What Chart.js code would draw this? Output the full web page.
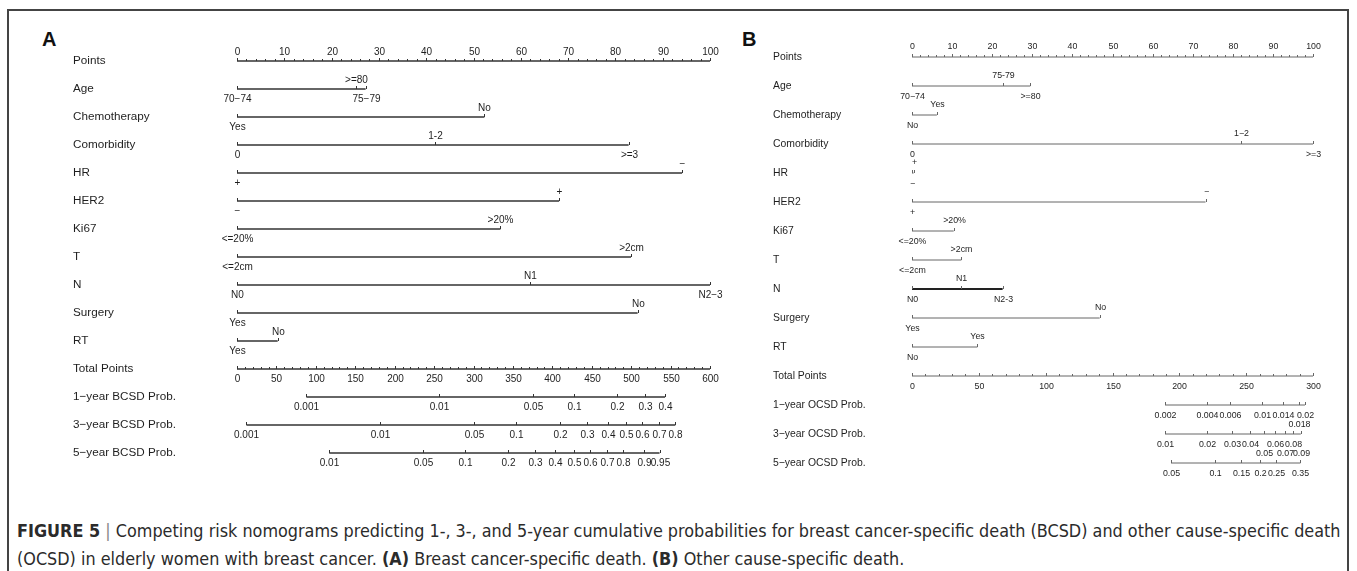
<!DOCTYPE html>
<html>
<head>
<meta charset="utf-8">
<script src="https://cdn.jsdelivr.net/npm/chart.js@4.4.0/dist/chart.umd.min.js"></script>
<style>
  body { margin: 0; background: #fff; width: 1357px; height: 571px; position: relative; overflow: hidden; font-family: "Liberation Sans", Arial, sans-serif; }
  #frame { position: absolute; left: 7px; top: 9px; width: 1342px; height: 580px; border: 2px solid #444; box-sizing: border-box; }
  .letter { position: absolute; top: 29px; font: bold 20px "Liberation Sans", Arial, sans-serif; line-height: 20px; color: #111; }
  .wrap { position: absolute; top: 10px; }
  #caption { position: absolute; left: 17px; top: 517px; color: #2b2b2b; font-family: "Liberation Sans Narrow", "DejaVu Sans Condensed", sans-serif; white-space: nowrap; }
  #caption div { height: 28px; line-height: 28px; }
  #caption .sep { color: #888; }
</style>
</head>
<body>
<div id="frame"></div>
<div class="letter" style="left:42px">A</div>
<div class="letter" style="left:742px">B</div>
<div class="wrap" style="left:10px"><canvas id="chartA" width="725" height="475"></canvas></div>
<div class="wrap" style="left:735px"><canvas id="chartB" width="612" height="475"></canvas></div>
<div id="caption">
  <div id="cap1"><b>FIGURE 5</b> <span class="sep">|</span> Competing risk nomograms predicting 1-, 3-, and 5-year cumulative probabilities for breast cancer-specific death (BCSD) and other cause-specific death</div>
  <div>(OCSD) in elderly women with breast cancer. <b>(A)</b> Breast cancer-specific death. <b>(B)</b> Other cause-specific death.</div>
</div>
<script>
// ---------- panel A : breast cancer-specific death ----------
const rowNamesA = ['Points', 'Age', 'Chemotherapy', 'Comorbidity', 'HR', 'HER2', 'Ki67', 'T', 'N', 'Surgery', 'RT',
  'Total Points', '1\u2212year BCSD Prob.', '3\u2212year BCSD Prob.', '5\u2212year BCSD Prob.'];
const pointTicksA = [0, 10, 20, 30, 40, 50, 60, 70, 80, 90, 100];
const totalTicksA = [0, 50, 100, 150, 200, 250, 300, 350, 400, 450, 500, 550, 600];

const ageLvlA = ['70\u221274', '75\u221279', '>=80'];
const agePtsA = [0, 27.2, 25.1];
const chemoLvlA = ['Yes', 'No'];
const chemoPtsA = [0, 52.3];
const comorbLvlA = ['0', '1-2', '>=3'];
const comorbPtsA = [0, 41.9, 82.8];
const hrLvlA = ['+', '\u2212'];
const hrPtsA = [0, 94.1];
const her2LvlA = ['\u2212', '+'];
const her2PtsA = [0, 68.1];
const ki67LvlA = ['<=20%', '>20%'];
const ki67PtsA = [0, 55.7];
const tLvlA = ['<=2cm', '>2cm'];
const tPtsA = [0, 83.3];
const nLvlA = ['N0', 'N1', 'N2\u22123'];
const nPtsA = [0, 61.9, 100];
const surgLvlA = ['Yes', 'No'];
const surgPtsA = [0, 84.7];
const rtLvlA = ['Yes', 'No'];
const rtPtsA = [0, 8.6];

// probability scales, positions in total points
const bcsd1Prob = ['0.001', '0.01', '0.05', '0.1', '0.2', '0.3', '0.4'];
const bcsd1Tot = [88, 256, 375, 428, 482, 517, 543];
const bcsd3Prob = ['0.001', '0.01', '0.05', '0.1', '0.2', '0.3', '0.4', '0.5', '0.6', '0.7', '0.8'];
const bcsd3Tot = [12, 181, 301, 354, 410, 444, 470, 493, 514, 535, 556];
const bcsd5Prob = ['0.01', '0.05', '0.1', '0.2', '0.3', '0.4', '0.5', '0.6', '0.7', '0.8', '0.9', '0.95'];
const bcsd5Tot = [117, 236, 289, 344, 378, 404, 427, 448, 469, 490, 516, 536];

// ---------- panel B : other cause-specific death ----------
const rowNamesB = ['Points', 'Age', 'Chemotherapy', 'Comorbidity', 'HR', 'HER2', 'Ki67', 'T', 'N', 'Surgery', 'RT',
  'Total Points', '1\u2212year OCSD Prob.', '3\u2212year OCSD Prob.', '5\u2212year OCSD Prob.'];
const pointTicksB = [0, 10, 20, 30, 40, 50, 60, 70, 80, 90, 100];
const totalTicksB = [0, 50, 100, 150, 200, 250, 300];

const ageLvlB = ['70\u221274', '75-79', '>=80'];
const agePtsB = [0, 22.6, 29.5];
const chemoLvlB = ['No', 'Yes'];
const chemoPtsB = [0, 6.2];
const comorbLvlB = ['0', '1\u22122', '>=3'];
const comorbPtsB = [0, 82.1, 100];
const hrLvlB = ['\u2212', '+'];
const hrPtsB = [0, 0.4];
const her2LvlB = ['+', '\u2212'];
const her2PtsB = [0, 73.2];
const ki67LvlB = ['<=20%', '>20%'];
const ki67PtsB = [0, 10.4];
const tLvlB = ['<=2cm', '>2cm'];
const tPtsB = [0, 12.3];
const nLvlB = ['N0', 'N1', 'N2-3'];
const nPtsB = [0, 12.1, 22.6];
const surgLvlB = ['Yes', 'No'];
const surgPtsB = [0, 46.8];
const rtLvlB = ['No', 'Yes'];
const rtPtsB = [0, 16.3];

const ocsd1Prob = ['0.002', '0.004', '0.006', '0.01', '0.014', '0.018', '0.02'];
const ocsd1Tot = [189.3, 220.7, 237.9, 262.2, 277.6, 289.4, 294.0];
const ocsd3Prob = ['0.01', '0.02', '0.03', '0.04', '0.05', '0.06', '0.07', '0.08', '0.09'];
const ocsd3Tot = [189.3, 221.0, 239.7, 252.9, 263.4, 271.9, 279.2, 285.4, 290.9];
const ocsd5Prob = ['0.05', '0.1', '0.15', '0.2', '0.25', '0.35'];
const ocsd5Tot = [193.8, 226.5, 246.1, 260.6, 272.2, 290.6];

const FONT = '"Liberation Sans", Arial, sans-serif';

function buildRows(p) {
  return [
    { kind: 'axis', axis: 'x', ticks: p.pointTicks, side: 'above', minor: 5 },
    { kind: 'factor', axis: 'x', pts: p.agePts, labels: p.ageLvl },
    { kind: 'factor', axis: 'x', pts: p.chemoPts, labels: p.chemoLvl },
    { kind: 'factor', axis: 'x', pts: p.comorbPts, labels: p.comorbLvl },
    { kind: 'factor', axis: 'x', pts: p.hrPts, labels: p.hrLvl },
    { kind: 'factor', axis: 'x', pts: p.her2Pts, labels: p.her2Lvl },
    { kind: 'factor', axis: 'x', pts: p.ki67Pts, labels: p.ki67Lvl },
    { kind: 'factor', axis: 'x', pts: p.tPts, labels: p.tLvl },
    { kind: 'factor', axis: 'x', pts: p.nPts, labels: p.nLvl, strong: p.strongN },
    { kind: 'factor', axis: 'x', pts: p.surgPts, labels: p.surgLvl },
    { kind: 'factor', axis: 'x', pts: p.rtPts, labels: p.rtLvl },
    { kind: 'axis', axis: 'xt', ticks: p.totalTicks, side: 'below', minor: 5 },
    { kind: 'fun', axis: 'xt', pts: p.f1Tot, labels: p.f1Prob },
    { kind: 'fun', axis: 'xt', pts: p.f3Tot, labels: p.f3Prob },
    { kind: 'fun', axis: 'xt', pts: p.f5Tot, labels: p.f5Prob }
  ];
}

// draws ticks and labels of every row through the chart scales
const nomoPlugin = {
  id: 'nomo',
  afterDatasetsDraw(chart, args, o) {
    const ctx = chart.ctx, ys = chart.scales.y;
    ctx.save();
    ctx.fillStyle = o.textColor;
    ctx.strokeStyle = o.lineColor;
    ctx.lineWidth = 1;
    ctx.textAlign = 'center';
    ctx.textBaseline = 'middle';
    ctx.font = o.fontSize + 'px ' + FONT;
    o.rows.forEach((r, i) => {
      const sc = chart.scales[r.axis];
      const y = ys.getPixelForValue(i);
      const tick = (v, len) => {
        const x = Math.round(sc.getPixelForValue(v)) + 0.5;
        ctx.beginPath();
        ctx.moveTo(x, y);
        ctx.lineTo(x, y - len);
        ctx.stroke();
        return x;
      };
      if (r.kind === 'axis') {
        for (let k = 0; k < r.ticks.length - 1; k++) {
          const step = (r.ticks[k + 1] - r.ticks[k]) / r.minor;
          for (let m = 1; m < r.minor; m++) tick(r.ticks[k] + m * step, o.minorLen);
        }
        r.ticks.forEach(v => {
          const x = tick(v, o.tickLen);
          ctx.fillText(String(v), x, y + (r.side === 'above' ? o.above : o.below));
        });
      } else if (r.kind === 'factor') {
        // levels alternate below / above the line in order of points
        const order = r.pts.map((p, k) => k).sort((a, b) => r.pts[a] - r.pts[b]);
        order.forEach((k, rank) => {
          const x = tick(r.pts[k], o.tickLen);
          ctx.fillText(r.labels[k], x, y + (rank % 2 ? o.above : o.below));
        });
      } else {
        // crowded probability labels drop to a second line
        const lastEnd = [-Infinity, -Infinity];
        r.pts.forEach((p, k) => {
          const x = tick(p, o.tickLen);
          const w = ctx.measureText(r.labels[k]).width;
          for (let line = 0; line < 2; line++) {
            if (x - w / 2 >= lastEnd[line] - 2) {
              ctx.fillText(r.labels[k], x, y + o.below + line * o.lineGap);
              lastEnd[line] = x + w / 2;
              break;
            }
          }
        });
      }
    });
    ctx.restore();
  }
};

function makeNomogram(canvasId, names, rows, cfg) {
  const datasets = rows.map((r, i) => {
    const vals = r.kind === 'axis' ? r.ticks : r.pts;
    return {
      data: [{ x: Math.min(...vals), y: i }, { x: Math.max(...vals), y: i }],
      xAxisID: r.axis,
      showLine: true,
      pointRadius: 0,
      borderColor: r.strong ? '#222' : cfg.lineColor,
      borderWidth: r.strong ? 1.8 : cfg.lineWidth,
      clip: false
    };
  });
  return new Chart(document.getElementById(canvasId), {
    type: 'scatter',
    data: { datasets },
    options: {
      responsive: false,
      animation: false,
      devicePixelRatio: 1,
      layout: { padding: cfg.padding },
      plugins: {
        legend: { display: false },
        tooltip: { enabled: false },
        nomo: {
          rows, fontSize: cfg.tickFont, textColor: '#1e1e1e', lineColor: cfg.lineColor,
          tickLen: 3, minorLen: 2, above: cfg.above, below: cfg.below, lineGap: 9
        }
      },
      scales: {
        x: { type: 'linear', min: 0, max: 100, display: false },
        xt: { type: 'linear', min: 0, max: cfg.totalMax, display: false },
        y: {
          type: 'linear', reverse: true, min: -0.5, max: names.length - 0.5,
          afterBuildTicks: s => { s.ticks = names.map((n, i) => ({ value: i })); },
          afterFit: s => { s.width = cfg.labelWidth; },
          grid: { display: false },
          border: { display: false },
          ticks: {
            autoSkip: false, crossAlign: 'far', padding: 0, color: '#1e1e1e',
            font: { family: FONT, size: cfg.labelFont },
            callback: v => names[v]
          }
        }
      }
    },
    plugins: [nomoPlugin]
  });
}

const rowsA = buildRows({
  pointTicks: pointTicksA, totalTicks: totalTicksA,
  agePts: agePtsA, ageLvl: ageLvlA, chemoPts: chemoPtsA, chemoLvl: chemoLvlA,
  comorbPts: comorbPtsA, comorbLvl: comorbLvlA, hrPts: hrPtsA, hrLvl: hrLvlA,
  her2Pts: her2PtsA, her2Lvl: her2LvlA, ki67Pts: ki67PtsA, ki67Lvl: ki67LvlA,
  tPts: tPtsA, tLvl: tLvlA, nPts: nPtsA, nLvl: nLvlA, strongN: false,
  surgPts: surgPtsA, surgLvl: surgLvlA, rtPts: rtPtsA, rtLvl: rtLvlA,
  f1Tot: bcsd1Tot, f1Prob: bcsd1Prob, f3Tot: bcsd3Tot, f3Prob: bcsd3Prob, f5Tot: bcsd5Tot, f5Prob: bcsd5Prob
});
const rowsB = buildRows({
  pointTicks: pointTicksB, totalTicks: totalTicksB,
  agePts: agePtsB, ageLvl: ageLvlB, chemoPts: chemoPtsB, chemoLvl: chemoLvlB,
  comorbPts: comorbPtsB, comorbLvl: comorbLvlB, hrPts: hrPtsB, hrLvl: hrLvlB,
  her2Pts: her2PtsB, her2Lvl: her2LvlB, ki67Pts: ki67PtsB, ki67Lvl: ki67LvlB,
  tPts: tPtsB, tLvl: tLvlB, nPts: nPtsB, nLvl: nLvlB, strongN: true,
  surgPts: surgPtsB, surgLvl: surgLvlB, rtPts: rtPtsB, rtLvl: rtLvlB,
  f1Tot: ocsd1Tot, f1Prob: ocsd1Prob, f3Tot: ocsd3Tot, f3Prob: ocsd3Prob, f5Tot: ocsd5Tot, f5Prob: ocsd5Prob
});

// A: rows 28px apart, Points row at page y=61; B: rows 29px apart, Points row at y=57
makeNomogram('chartA', rowNamesA, rowsA, {
  padding: { left: 63, right: 25, top: 37, bottom: 18 },
  labelWidth: 164, labelFont: 11.7, tickFont: 10, totalMax: 600,
  lineColor: '#333', lineWidth: 1.3, above: -9, below: 10
});
makeNomogram('chartB', rowNamesB, rowsB, {
  padding: { left: 38, right: 34, top: 32.5, bottom: 7.5 },
  labelWidth: 139, labelFont: 10.4, tickFont: 8.8, totalMax: 300,
  lineColor: '#666', lineWidth: 1, above: -10, below: 11
});

// fit caption width to the frame
const cap = document.getElementById('caption');
cap.style.fontSize = '16px';
const w = document.getElementById('cap1').scrollWidth;
cap.style.fontSize = (16 * 1324 / w).toFixed(2) + 'px';
</script>
</body>
</html>
